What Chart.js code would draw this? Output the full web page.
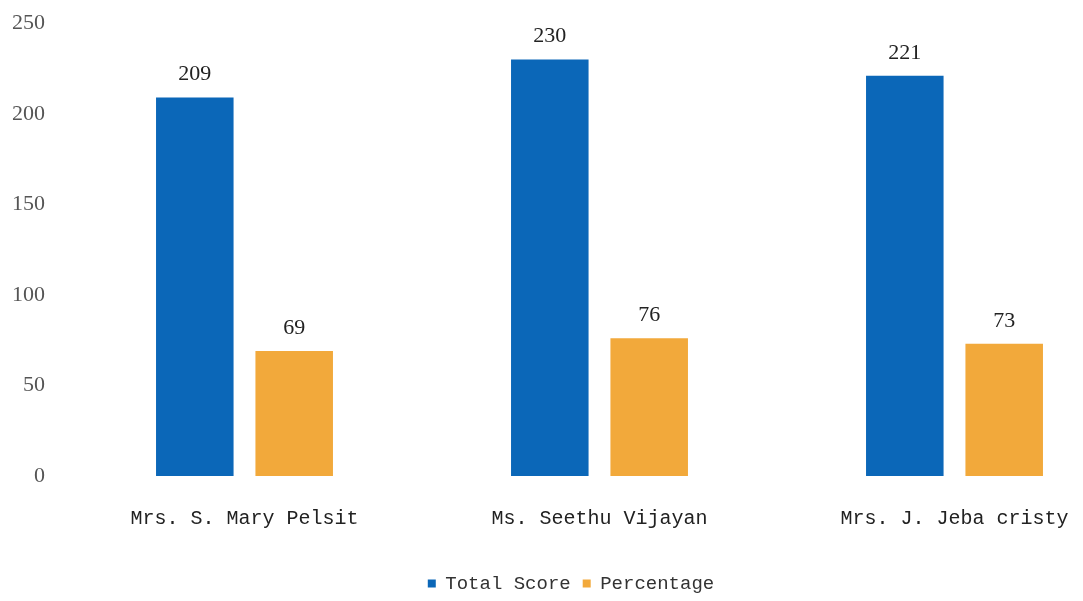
<!DOCTYPE html>
<html>
<head>
<meta charset="utf-8">
<script src="https://cdn.jsdelivr.net/npm/chart.js@4"></script>
<style>
  html, body { margin: 0; padding: 0; background: #fff; overflow: hidden; }
  #page { width: 1083px; height: 601px; position: relative; overflow: hidden; }
  #wrap { width: 1152px; height: 615px; position: absolute; left: -20px; top: -12px; }
</style>
</head>
<body>
<div id="page"><div id="wrap"><canvas id="scoreChart"></canvas></div></div>
<script>
const teachers = ["Mrs. S. Mary Pelsit", "Ms. Seethu Vijayan", "Mrs. J. Jeba cristy"];
const totalScore = [209, 230, 221];
const percentage = [69, 76, 73];
const yTicks = [0, 50, 100, 150, 200, 250];

// draws the number above each bar
const barValues = {
  id: "barValues",
  afterDatasetsDraw(chart) {
    const ctx = chart.ctx;
    ctx.save();
    ctx.font = "22px 'Liberation Serif', serif";
    ctx.fillStyle = "#222";
    ctx.textAlign = "center";
    ctx.textBaseline = "bottom";
    chart.data.datasets.forEach((ds, i) => {
      chart.getDatasetMeta(i).data.forEach((bar, j) => {
        ctx.fillText(ds.data[j], bar.x, bar.y - 12);
      });
    });
    ctx.restore();
  }
};

const ctx = document.getElementById("scoreChart").getContext("2d");
new Chart(ctx, {
  type: "bar",
  data: {
    labels: teachers,
    datasets: [
      {
        label: "Total Score",
        data: totalScore,
        backgroundColor: "#0b67b8",
        categoryPercentage: 0.56,
        barPercentage: 0.78
      },
      {
        label: "Percentage",
        data: percentage,
        backgroundColor: "#f2a93b",
        categoryPercentage: 0.56,
        barPercentage: 0.78
      }
    ]
  },
  options: {
    responsive: true,
    maintainAspectRatio: false,
    animation: false,
    layout: { padding: { top: 11, right: -20, left: 10, bottom: 0 } },
    plugins: {
      legend: {
        position: "bottom",
        labels: {
          usePointStyle: true,
          pointStyle: "rect",
          boxWidth: 8,
          boxHeight: 8,
          padding: 12,
          color: "#333",
          font: { family: "'Liberation Mono', monospace", size: 19 }
        }
      },
      tooltip: { enabled: false }
    },
    scales: {
      x: {
        grid: { display: false, drawTicks: false },
        border: { display: false },
        ticks: {
          padding: 31,
          color: "#222",
          font: { family: "'Liberation Mono', monospace", size: 20 }
        }
      },
      y: {
        min: 0,
        max: 250,
        afterBuildTicks(axis) {
          axis.ticks = yTicks.map(v => ({ value: v }));
        },
        grid: { display: false, drawTicks: false },
        border: { display: false },
        ticks: {
          padding: 22,
          color: "#555",
          font: { family: "'Liberation Serif', serif", size: 22 }
        }
      }
    }
  },
  plugins: [barValues]
});
</script>
</body>
</html>
